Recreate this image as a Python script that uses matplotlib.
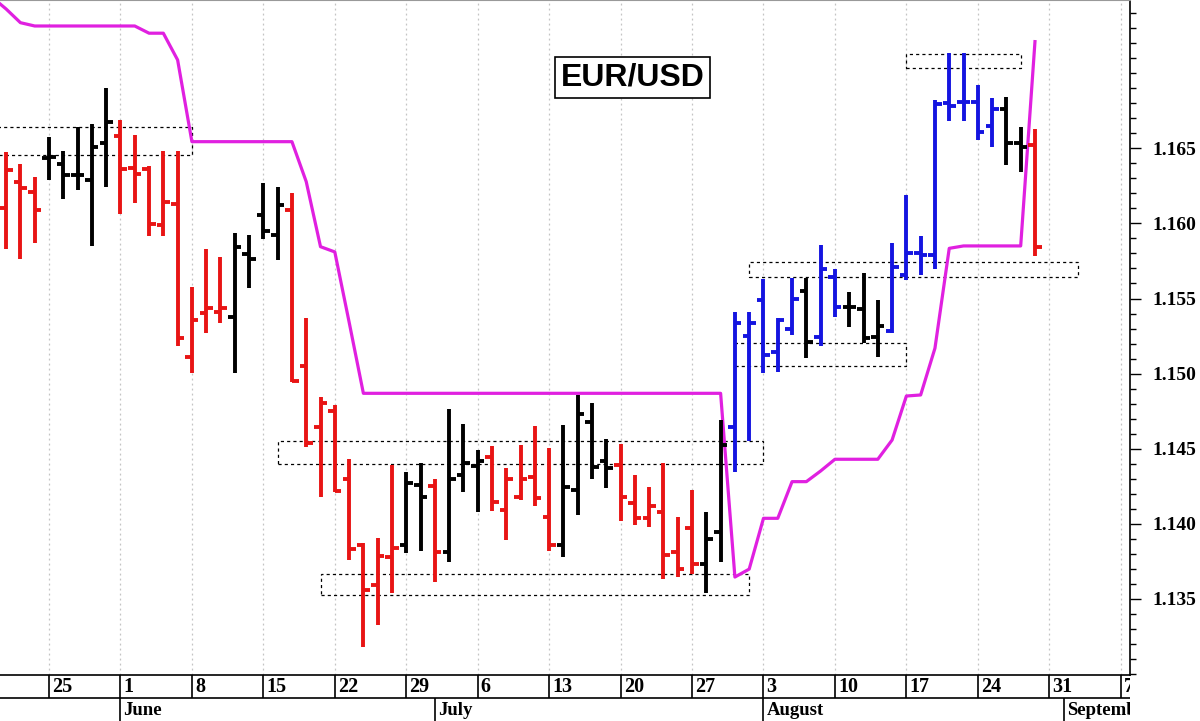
import numpy as np
import matplotlib.pyplot as plt
from matplotlib.patches import Rectangle
from matplotlib.ticker import FixedLocator

# trading day index, 0 = Monday 25 May
days = np.arange(-3, 70)

opens = [1.16105, 1.16278, 1.16211,
         1.16437, 1.16395, 1.16322, 1.16289, 1.16533,
         1.16582, 1.16367, 1.16360, 1.15989, 1.16129,
         1.15109, 1.15402, 1.15412, 1.15379, 1.15796,
         1.16056, 1.15923, 1.16089, 1.15053, 1.14647,
         1.14753, 1.14297, 1.13859, 1.13593, 1.13781,
         1.13859, 1.14259, 1.14252, 1.13815, 1.14325,
         1.14385, 1.14447, 1.14092, 1.14177, 1.14310,
         1.14048, 1.13859, 1.14225, 1.14680, 1.14418,
         1.14392, 1.14137, 1.14037, 1.14081, 1.13815,
         1.13970, 1.13733, 1.13948, 1.14643, 1.15250,
         1.15490, 1.15146, 1.15295, 1.15550, 1.15242,
         1.15645, 1.15442, 1.15428, 1.15242, 1.15284,
         1.15657, 1.15801, 1.15790, 1.16804, 1.16810,
         1.16810, 1.16648, 1.16760, 1.16533, 1.16522]

highs = [1.16477, 1.16396, 1.16311,
         1.16573, 1.16484, 1.16644, 1.16660, 1.16899,
         1.16688, 1.16589, 1.16382, 1.16484, 1.16482,
         1.15579, 1.15828, 1.15778, 1.15938, 1.15923,
         1.16271, 1.16244, 1.16204, 1.15368, 1.14842,
         1.14791, 1.14432, 1.13871, 1.13908, 1.14392,
         1.14347, 1.14407, 1.14297, 1.14763, 1.14663,
         1.14492, 1.14518, 1.14370, 1.14525, 1.14651,
         1.14503, 1.14658, 1.14858, 1.14806, 1.14563,
         1.14532, 1.14325, 1.14243, 1.14403, 1.14044,
         1.14225, 1.14081, 1.14691, 1.15412, 1.15412,
         1.15628, 1.15368, 1.15635, 1.15635, 1.15856,
         1.15695, 1.15545, 1.15668, 1.15490, 1.15872,
         1.16189, 1.15916, 1.16822, 1.17132, 1.17136,
         1.16921, 1.16833, 1.16844, 1.16644, 1.16626]

lows = [1.15830, 1.15763, 1.15870,
        1.16289, 1.16160, 1.16222, 1.15850, 1.16240,
        1.16061, 1.16134, 1.15916, 1.15916, 1.15186,
        1.15002, 1.15268, 1.15335, 1.15002, 1.15568,
        1.15894, 1.15756, 1.14946, 1.14514, 1.14177,
        1.14214, 1.13759, 1.13182, 1.13327, 1.13538,
        1.13804, 1.13821, 1.13615, 1.13748, 1.14214,
        1.14081, 1.14085, 1.13892, 1.14159, 1.14119,
        1.13821, 1.13781, 1.14059, 1.14297, 1.14241,
        1.14021, 1.13992, 1.13981, 1.13633, 1.13648,
        1.13666, 1.13538, 1.13748, 1.14347, 1.14553,
        1.15002, 1.15013, 1.15257, 1.15102, 1.15184,
        1.15379, 1.15308, 1.15202, 1.15113, 1.15268,
        1.15623, 1.15657, 1.15695, 1.16684, 1.16684,
        1.16555, 1.16511, 1.16389, 1.16344, 1.15783]

closes = [1.16356, 1.16234, 1.16089,
          1.16444, 1.16322, 1.16322, 1.16511, 1.16677,
          1.16360, 1.16327, 1.15996, 1.16145, 1.15235,
          1.15357, 1.15435, 1.15435, 1.15845, 1.15761,
          1.15951, 1.16123, 1.14953, 1.14540, 1.14803,
          1.14219, 1.13831, 1.13560, 1.13786, 1.13837,
          1.14274, 1.14181, 1.13815, 1.14297, 1.14407,
          1.14418, 1.14147, 1.14297, 1.14297, 1.14170,
          1.13859, 1.14247, 1.14729, 1.14378, 1.14370,
          1.14177, 1.14037, 1.14119, 1.13793, 1.13697,
          1.13733, 1.13897, 1.14525, 1.15339, 1.15339,
          1.15124, 1.15357, 1.15497, 1.15213, 1.15695,
          1.15442, 1.15442, 1.15235, 1.15317, 1.15712,
          1.15805, 1.15790, 1.16795, 1.16782, 1.16810,
          1.16611, 1.16760, 1.16537, 1.16511, 1.15845]

# r = down trend, k = neutral, b = up trend
trend = "rrr" "kkkkk" "rrrrrrrr" "kkkk" "rrrrrrrr" "kk" "r" "kkk" "rrrrr" \
        "kkkk" "rrrrrr" "kk" "bbbbb" "k" "bb" "kkk" "bbbbbbbb" "kk" "r"

# trailing stop line
stop_days = np.arange(-4, 70)
stop_vals = [1.17507, 1.17427, 1.17336, 1.17314,
             1.17314, 1.17314, 1.17314, 1.17314, 1.17314, 1.17314, 1.17314,
             1.17266, 1.17266, 1.17088,
             1.16544, 1.16544, 1.16544, 1.16544, 1.16544, 1.16544, 1.16544, 1.16544,
             1.16278, 1.15845, 1.15810, 1.15344,
             1.14869, 1.14869, 1.14869, 1.14869, 1.14869, 1.14869, 1.14869,
             1.14869, 1.14869, 1.14869, 1.14869, 1.14869, 1.14869, 1.14869,
             1.14869, 1.14869, 1.14869, 1.14869, 1.14869, 1.14869, 1.14869,
             1.14869, 1.14869, 1.14869, 1.14869, 1.14869,
             1.13646, 1.13699, 1.14037, 1.14037, 1.14281, 1.14281, 1.14352,
             1.14430, 1.14430, 1.14430, 1.14430,
             1.14558, 1.14851, 1.14858, 1.15169, 1.15834,
             1.15850, 1.15850, 1.15850, 1.15850, 1.15850,
             1.17210]

# dotted zones: start day, end day, low, high
zone_x0 = [-4, 16, 19, 48, 49, 60]
zone_x1 = [10, 50, 49, 60, 72, 68]
zone_lo = [1.16455, 1.14397, 1.13527, 1.15051, 1.15641, 1.17033]
zone_hi = [1.16642, 1.14552, 1.13666, 1.15202, 1.15745, 1.17128]

week_days = [0, 5, 10, 15, 20, 25, 30, 35, 40, 45, 50, 55, 60, 65, 70, 75]
week_labels = ['25', '1', '8', '15', '22', '29', '6', '13', '20', '27',
               '3', '10', '17', '24', '31', '7']
month_days = [5, 27, 50, 71]
month_labels = ['June', 'July', 'August', 'September']

price_labels = [1.135, 1.140, 1.145, 1.150, 1.155, 1.160, 1.165]
price_minor = [1.130, 1.131, 1.132, 1.133, 1.134, 1.136, 1.137, 1.138, 1.139,
               1.141, 1.142, 1.143, 1.144, 1.146, 1.147, 1.148, 1.149,
               1.151, 1.152, 1.153, 1.154, 1.156, 1.157, 1.158, 1.159,
               1.161, 1.162, 1.163, 1.164, 1.166, 1.167, 1.168, 1.169,
               1.170, 1.171, 1.172, 1.173, 1.174]

palette = {'r': '#e81414', 'k': '#000000', 'b': '#1414e0'}
cols = [palette[c] for c in trend]
XLIM = (-3.43, 75.65)

fig = plt.figure(figsize=(12, 7.21), dpi=100)
ax = fig.add_axes([0, 46 / 721, 1130 / 1200, 675 / 721])
ax.set_xlim(*XLIM)
ax.set_ylim(1.12994, 1.17487)

ax.set_xticks(week_days)
ax.grid(axis='x', color='#c4c4c4', linestyle=(0, (1.5, 2.5)), lw=0.9)
ax.tick_params(axis='x', length=0, labelbottom=False)

# zones
for x0, x1, lo, hi in zip(zone_x0, zone_x1, zone_lo, zone_hi):
    ax.add_patch(Rectangle((x0, lo), x1 - x0, hi - lo, fill=False, ec='black',
                           lw=0.9, ls=(0, (2.5, 2.5)), zorder=2))

ax.plot(stop_days, stop_vals, color='#e020e0', lw=2.3, zorder=3)

# OHLC bars
tick = 0.46
ax.vlines(days, lows, highs, colors=cols, lw=2.8, capstyle='butt', zorder=4)
ax.hlines(opens, days - tick, days, colors=cols, lw=2.8, zorder=4)
ax.hlines(closes, days, days + tick, colors=cols, lw=2.8, zorder=4)

# right price axis
ax.yaxis.tick_right()
ax.set_yticks(price_labels)
ax.set_yticklabels([f'{p:.3f}' for p in price_labels])
ax.yaxis.set_minor_locator(FixedLocator(price_minor))
ax.tick_params(axis='y', which='major', direction='out', length=8, width=1, pad=8)
ax.tick_params(axis='y', which='minor', direction='out', length=4, width=1)
for lab in ax.get_yticklabels():
    lab.set_fontfamily('Liberation Serif')
    lab.set_fontweight('bold')
    lab.set_fontsize(14)

ax.spines['left'].set_visible(False)
ax.spines['top'].set_color('#999999')
ax.spines['top'].set_linewidth(0.8)
ax.spines['right'].set_linewidth(1.2)
ax.spines['bottom'].set_linewidth(1.2)

ax.text(0.5597, 0.8852, 'EUR/USD', transform=ax.transAxes, ha='center', va='center',
        fontsize=23, fontweight='bold', family='Liberation Sans', zorder=6,
        bbox=dict(boxstyle='square,pad=0.18', fc='white', ec='black', lw=1.2))

# date strip under the chart
ax2 = fig.add_axes([0, 0, 1130 / 1200, 46 / 721])
ax2.set_xlim(*XLIM)
ax2.set_ylim(0, 2)
ax2.axis('off')
ax2.hlines(1, XLIM[0], XLIM[1], color='black', lw=1.2)
for d, lab in zip(week_days, week_labels):
    ax2.vlines(d, 1, 2, color='black', lw=1.2)
    ax2.text(d + 0.22, 1.47, lab, ha='left', va='center', fontsize=14.5,
             fontweight='bold', family='Liberation Serif', clip_on=True)
for d, lab in zip(month_days, month_labels):
    ax2.vlines(d, 0, 1, color='black', lw=1.2)
    ax2.text(d + 0.22, 0.45, lab, ha='left', va='center', fontsize=13.5,
             fontweight='bold', family='Liberation Serif', clip_on=True)

fig.savefig('out.png', dpi=100)
